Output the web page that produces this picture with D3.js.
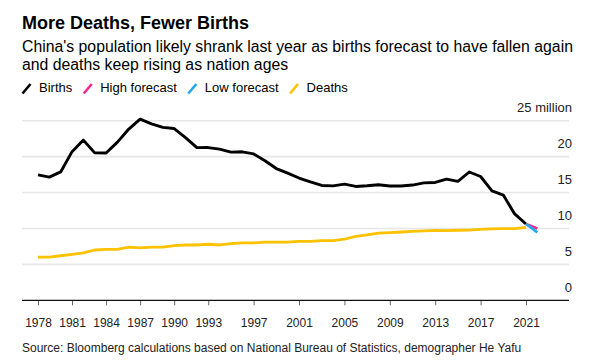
<!DOCTYPE html>
<html>
<head>
<meta charset="utf-8">
<script src="https://cdn.jsdelivr.net/npm/d3@7"></script>
<style>
  body { margin: 0; background: #fff; }
  svg { display: block; font-family: "Liberation Sans", Arial, sans-serif; }
</style>
</head>
<body>
<script>
var years = [1978, 1979, 1980, 1981, 1982, 1983, 1984, 1985, 1986, 1987, 1988, 1989,
             1990, 1991, 1992, 1993, 1994, 1995, 1996, 1997, 1998, 1999, 2000, 2001,
             2002, 2003, 2004, 2005, 2006, 2007, 2008, 2009, 2010, 2011, 2012, 2013,
             2014, 2015, 2016, 2017, 2018, 2019, 2020, 2021];

// millions
var births = [17.45, 17.15, 17.87, 20.69, 22.30, 20.52, 20.50, 22.02, 23.84, 25.22, 24.57, 24.07,
              23.91, 22.65, 21.25, 21.26, 21.04, 20.63, 20.67, 20.38, 19.42, 18.34, 17.71, 17.02,
              16.47, 15.99, 15.93, 16.17, 15.85, 15.94, 16.08, 15.91, 15.92, 16.04, 16.35, 16.40,
              16.87, 16.55, 17.86, 17.23, 15.23, 14.65, 12.02, 10.62];

var deaths = [6.00, 6.00, 6.20, 6.40, 6.60, 7.00, 7.10, 7.10, 7.40, 7.30, 7.40, 7.40,
              7.60, 7.70, 7.70, 7.80, 7.70, 7.90, 8.00, 8.00, 8.10, 8.10, 8.10, 8.20,
              8.20, 8.30, 8.30, 8.50, 8.90, 9.10, 9.35, 9.43, 9.51, 9.60, 9.66, 9.72,
              9.71, 9.75, 9.77, 9.86, 9.93, 9.98, 9.98, 10.14];

var forecastYears = [2021, 2022];
var highForecast = [10.62, 10.0];
var lowForecast = [10.62, 9.45];

var xTicks = [1978, 1981, 1984, 1987, 1990, 1993, 1997, 2001, 2005, 2009, 2013, 2017, 2021];
var yTicks = [0, 5, 10, 15, 20, 25];

var legendNames = ["Births", "High forecast", "Low forecast", "Deaths"];
var colors = { births: "#000000", high: "#f5288c", low: "#22a8ee", deaths: "#fcc200" };
var legendColors = [colors.births, colors.high, colors.low, colors.deaths];

var svg = d3.select("body").append("svg")
    .attr("width", 598)
    .attr("height", 362);

var x = d3.scaleLinear().domain([1978, 2021]).range([38, 526]);
var y = d3.scaleLinear().domain([0, 25]).range([300.3, 120.7]);
var left = 22, right = 569;

// titles
svg.append("text")
    .attr("x", 22).attr("y", 29)
    .attr("font-size", "18px").attr("font-weight", "bold").attr("fill", "#000")
    .text("More Deaths, Fewer Births");

svg.append("text")
    .attr("x", 22).attr("y", 51.5)
    .attr("font-size", "15.8px").attr("fill", "#000")
    .text("China's population likely shrank last year as births forecast to have fallen again");

svg.append("text")
    .attr("x", 22).attr("y", 70)
    .attr("font-size", "15.8px").attr("fill", "#000")
    .text("and deaths keep rising as nation ages");

// legend
var lx = 22;
legendNames.forEach(function(name, i) {
    svg.append("line")
        .attr("x1", lx + 0.5).attr("y1", 93.5)
        .attr("x2", lx + 8.5).attr("y2", 84)
        .attr("stroke", legendColors[i])
        .attr("stroke-width", 2.6);
    var t = svg.append("text")
        .attr("x", lx + 17).attr("y", 92)
        .attr("font-size", "13px").attr("fill", "#000")
        .text(name);
    lx = lx + 17 + t.node().getComputedTextLength() + 11;
});

// gridlines
svg.selectAll(".grid")
    .data(yTicks.filter(function(d) { return d > 0; }))
    .enter()
    .append("line")
    .attr("class", "grid")
    .attr("x1", left).attr("x2", right)
    .attr("y1", function(d) { return y(d); })
    .attr("y2", function(d) { return y(d); })
    .attr("stroke", "#e6e6e6")
    .attr("stroke-width", 1.6);

svg.selectAll(".ylab")
    .data(yTicks)
    .enter()
    .append("text")
    .attr("class", "ylab")
    .attr("x", 572)
    .attr("y", function(d) { return y(d) - 8.5; })
    .attr("text-anchor", "end")
    .attr("font-size", "13px")
    .attr("fill", "#222")
    .text(function(d) { return d === 25 ? "25 million" : d; });

// x axis
var xAxis = svg.append("g")
    .attr("transform", "translate(0," + y(0) + ")")
    .call(d3.axisBottom(x).tickValues(xTicks).tickSize(5).tickPadding(13).tickFormat(d3.format("d")));
xAxis.select(".domain").remove();
xAxis.selectAll(".tick line").attr("stroke", "#666").attr("stroke-width", 1);
xAxis.selectAll(".tick text")
    .attr("font-family", "Liberation Sans, Arial, sans-serif")
    .attr("font-size", "12px")
    .attr("fill", "#222");

svg.append("line")
    .attr("x1", left).attr("x2", right)
    .attr("y1", y(0)).attr("y2", y(0))
    .attr("stroke", "#111")
    .attr("stroke-width", 1.3);

// lines
var line = d3.line()
    .x(function(d) { return x(d[0]); })
    .y(function(d) { return y(d[1]); });

function drawSeries(xs, vals, color, width) {
    svg.append("path")
        .datum(d3.zip(xs, vals))
        .attr("d", line)
        .attr("fill", "none")
        .attr("stroke", color)
        .attr("stroke-width", width)
        .attr("stroke-linejoin", "round");
}

drawSeries(years, deaths, colors.deaths, 2.8);
drawSeries(years, births, colors.births, 2.9);
drawSeries(forecastYears, highForecast, colors.high, 2.6);
drawSeries(forecastYears, lowForecast, colors.low, 2.6);

// source
svg.append("text")
    .attr("x", 22).attr("y", 352)
    .attr("font-size", "12px").attr("fill", "#222")
    .text("Source: Bloomberg calculations based on National Bureau of Statistics, demographer He Yafu");
</script>
</body>
</html>
